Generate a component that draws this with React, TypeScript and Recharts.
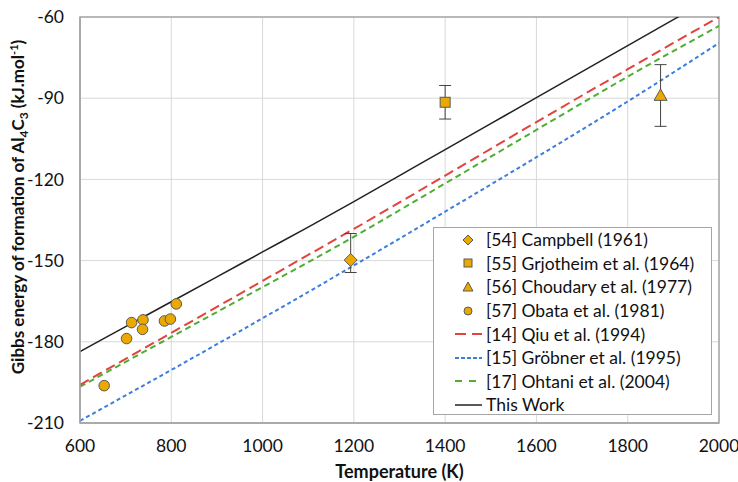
import React from 'react';
import {
  ComposedChart,
  Line,
  Scatter,
  XAxis,
  YAxis,
  CartesianGrid,
  ErrorBar,
  ReferenceArea,
  Legend,
} from 'recharts';

// ---- data ----
const temps = [600, 700, 800, 900, 1000, 1100, 1200, 1300, 1400, 1500, 1600, 1700, 1800, 1900, 2000];
const qiu = [-195.9, -186.3, -176.7, -167.1, -157.5, -147.9, -138.3, -128.5, -118.6, -108.7, -98.8, -89.0, -79.3, -69.6, -60.0];
const grobner = [-209.2, -199.8, -190.4, -180.9, -171.3, -161.6, -151.8, -141.9, -131.9, -121.9, -111.8, -101.6, -91.2, -80.5, -69.6];
const ohtani = [-196.6, -187.4, -178.2, -169.0, -159.8, -150.6, -141.2, -131.4, -121.5, -111.6, -101.7, -91.8, -82.0, -72.6, -63.3];
const thisWork = [-183.6, -174.4, -165.2, -156.0, -146.8, -137.6, -128.2, -118.6, -109.0, -99.4, -89.8, -80.2, -70.6, -61.0, -51.4];

const campbell = [{ T: 1193, G: -149.8, err: [4.6, 9.8] }];
const grjotheim = [{ T: 1400, G: -91.5, err: 6.2 }];
const choudary = [{ T: 1872, G: -89.0, err: 11.4 }];
const obataT = [653, 702, 713, 738, 737, 785, 798, 811];
const obataG = [-196.2, -178.8, -172.9, -171.9, -175.4, -172.3, -171.6, -166.0];

const xTicks = [600, 800, 1000, 1200, 1400, 1600, 1800, 2000];
const yTicks = [-210, -180, -150, -120, -90, -60];

const legendLabels = [
  '[54] Campbell (1961)',
  '[55] Grjotheim et al. (1964)',
  '[56] Choudary et al. (1977)',
  '[57] Obata et al. (1981)',
  '[14] Qiu et al. (1994)',
  '[15] Gröbner et al. (1995)',
  '[17] Ohtani et al. (2004)',
  'This Work',
];

const lineTable = temps.map((T, i) => ({
  T,
  qiu: qiu[i],
  grobner: grobner[i],
  ohtani: ohtani[i],
  thisWork: thisWork[i],
}));
const obata = obataT.map((T, i) => ({ T, G: obataG[i] }));

// ---- styles ----
const GOLD = '#EBA800';
const MSTROKE = '#5a5a5a';
const RED = '#E0443C';
const BLUE = '#3C7DDE';
const GREEN = '#4CAF32';
const TXT = '#111';

const Diamond = (p: any) => {
  const { cx, cy } = p;
  const r = 6.5;
  return <path d={`M${cx},${cy - r}L${cx + r},${cy}L${cx},${cy + r}L${cx - r},${cy}Z`} fill={GOLD} stroke={MSTROKE} strokeWidth={1} />;
};
const Square = (p: any) => {
  const { cx, cy } = p;
  const r = 5;
  return <rect x={cx - r} y={cy - r} width={2 * r} height={2 * r} fill={GOLD} stroke={MSTROKE} strokeWidth={1} />;
};
const Triangle = (p: any) => {
  const { cx, cy } = p;
  const r = 6.5;
  return <path d={`M${cx},${cy - r}L${cx + r},${cy + r * 0.75}L${cx - r},${cy + r * 0.75}Z`} fill={GOLD} stroke={MSTROKE} strokeWidth={1} />;
};
const Circle = (p: any) => {
  const { cx, cy } = p;
  return <circle cx={cx} cy={cy} r={5.3} fill={GOLD} stroke={MSTROKE} strokeWidth={1} />;
};

const legendIcons = [
  <path d="M13,3L18,8L13,13L8,8Z" fill={GOLD} stroke={MSTROKE} strokeWidth={1} />,
  <rect x={9} y={4} width={8} height={8} fill={GOLD} stroke={MSTROKE} strokeWidth={1} />,
  <path d="M13,3L18,12L8,12Z" fill={GOLD} stroke={MSTROKE} strokeWidth={1} />,
  <circle cx={13} cy={8} r={4} fill={GOLD} stroke={MSTROKE} strokeWidth={1} />,
  <line x1={0} y1={8} x2={27} y2={8} stroke={RED} strokeWidth={2} strokeDasharray="11 6" />,
  <line x1={0} y1={8} x2={27} y2={8} stroke={BLUE} strokeWidth={2} strokeDasharray="4 2" />,
  <line x1={0} y1={8} x2={27} y2={8} stroke={GREEN} strokeWidth={2} strokeDasharray="7 7" />,
  <line x1={0} y1={8} x2={27} y2={8} stroke="#222" strokeWidth={1.5} />,
];

const renderLegend = () => (
  <div
    style={{
      boxSizing: 'border-box',
      width: 279,
      height: 188,
      border: '1px solid #A6A6A6',
      background: '#fff',
      paddingTop: 0,
    }}
  >
    {legendLabels.map((lab, i) => (
      <div key={lab} style={{ display: 'flex', alignItems: 'center', height: 23.6 }}>
        <svg width={30} height={16} style={{ marginLeft: 21, marginRight: 1 }}>
          {legendIcons[i]}
        </svg>
        <span style={{ fontSize: 17.5, color: TXT, whiteSpace: 'nowrap' }}>{lab}</span>
      </div>
    ))}
  </div>
);

const YTitle = () => {
  const cx = 24;
  const cy = 207;
  return (
    <text
      x={cx}
      y={cy}
      transform={`rotate(-90, ${cx}, ${cy})`}
      textAnchor="middle"
      fontWeight="bold"
      fontSize={17}
      fill={TXT}
    >
      Gibbs energy of formation of Al
      <tspan fontSize={12} dy={4}>4</tspan>
      <tspan dy={-4}>C</tspan>
      <tspan fontSize={12} dy={4}>3</tspan>
      <tspan dy={-4}> (kJ.mol</tspan>
      <tspan fontSize={11} dy={-6}>-1</tspan>
      <tspan dy={6}>)</tspan>
    </text>
  );
};

const XTitle = (props: any) => {
  const vb = props.viewBox || {};
  return (
    <text x={vb.x + vb.width / 2} y={478} textAnchor="middle" fontWeight="bold" fontSize={18} fill={TXT}>
      Temperature (K)
    </text>
  );
};

export default function App() {
  return (
    <div
      style={{
        position: 'absolute',
        left: 0,
        top: 0,
        width: 738,
        height: 482,
        background: '#fff',
        fontFamily: 'Lato, sans-serif',
      }}
    >
      <ComposedChart width={738} height={482} data={lineTable} margin={{ top: 17, right: 19, bottom: 0, left: 0 }}>
        <CartesianGrid stroke="#D9D9D9" strokeWidth={1} />
        <XAxis
          dataKey="T"
          type="number"
          domain={[600, 2000]}
          ticks={xTicks}
          allowDataOverflow
          height={59}
          tickLine={false}
          tickSize={0}
          tickMargin={17}
          axisLine={{ stroke: '#A6A6A6', strokeWidth: 1.5 }}
          tick={{ fill: TXT, fontSize: 17.5 }}
          label={XTitle}
        />
        <YAxis
          type="number"
          domain={[-210, -60]}
          ticks={yTicks}
          allowDataOverflow
          width={80}
          tickLine={false}
          tickSize={0}
          tickMargin={16}
          axisLine={{ stroke: '#A6A6A6', strokeWidth: 1.5 }}
          tick={{ fill: TXT, fontSize: 17.5 }}
          label={YTitle}
        />
        <ReferenceArea x1={600} x2={2000} y1={-210} y2={-60} fill="none" stroke="#A6A6A6" strokeWidth={1.5} />
        <Line dataKey="grobner" type="monotone" stroke={BLUE} strokeWidth={2} strokeDasharray="4 3" dot={false} isAnimationActive={false} />
        <Line dataKey="ohtani" type="monotone" stroke={GREEN} strokeWidth={2} strokeDasharray="6 4" dot={false} isAnimationActive={false} />
        <Line dataKey="qiu" type="monotone" stroke={RED} strokeWidth={2} strokeDasharray="10 5" dot={false} isAnimationActive={false} />
        <Line dataKey="thisWork" type="monotone" stroke="#222" strokeWidth={1.5} dot={false} isAnimationActive={false} />
        <Scatter data={campbell} dataKey="G" shape={Diamond} isAnimationActive={false}>
          <ErrorBar dataKey="err" direction="y" width={6} stroke="#444" strokeWidth={1} />
        </Scatter>
        <Scatter data={grjotheim} dataKey="G" shape={Square} isAnimationActive={false}>
          <ErrorBar dataKey="err" direction="y" width={6} stroke="#444" strokeWidth={1} />
        </Scatter>
        <Scatter data={choudary} dataKey="G" shape={Triangle} isAnimationActive={false}>
          <ErrorBar dataKey="err" direction="y" width={6} stroke="#444" strokeWidth={1} />
        </Scatter>
        <Scatter data={obata} dataKey="G" shape={Circle} isAnimationActive={false} />
        <Legend
          layout="horizontal"
          align="center"
          verticalAlign="middle"
          content={renderLegend}
          wrapperStyle={{ position: 'absolute', left: 433, top: 227, width: 279, height: 188 }}
        />
      </ComposedChart>
    </div>
  );
}
